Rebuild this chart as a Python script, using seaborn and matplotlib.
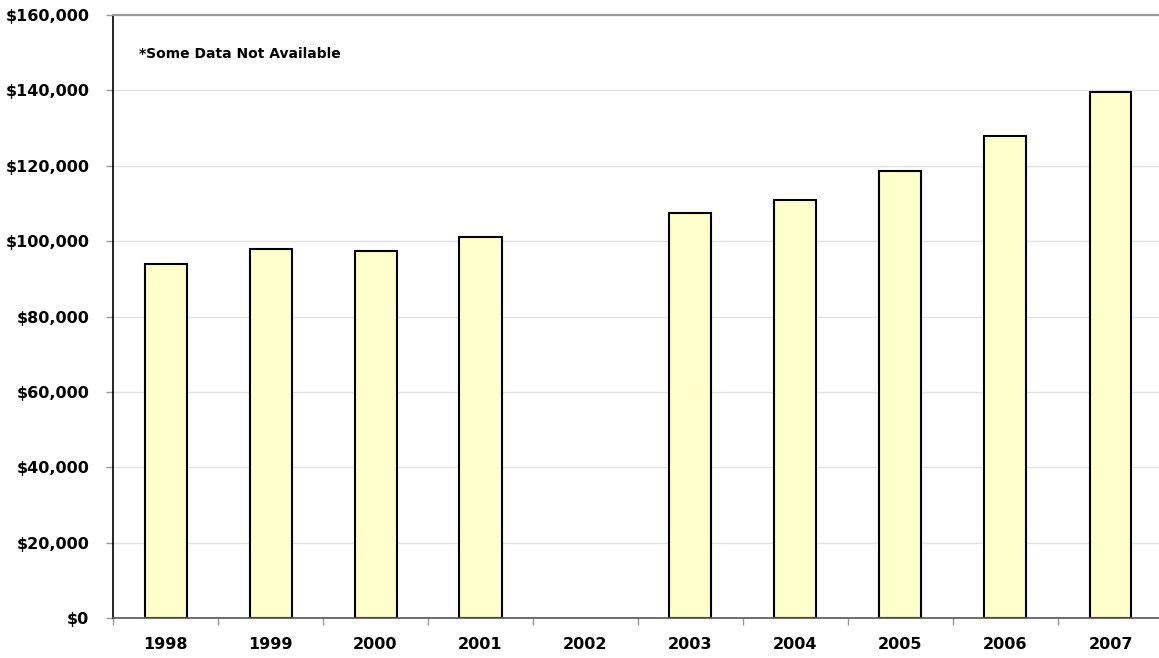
import numpy as np
import pandas as pd
import matplotlib.pyplot as plt
import seaborn as sns
from matplotlib.ticker import FuncFormatter, FixedLocator

# data (2002 not available)
years = ['1998', '1999', '2000', '2001', '2002', '2003', '2004', '2005', '2006', '2007']
salary = [93800, 98000, 97500, 101000, np.nan, 107400, 110800, 118600, 128000, 139600]

df = pd.DataFrame({'Year': years, 'Salary': salary})

sns.set_style('white')
plt.rcParams['font.family'] = ['DejaVu Sans']
plt.rcParams['text.color'] = 'black'
plt.rcParams['xtick.color'] = 'black'
plt.rcParams['ytick.color'] = 'black'

fig = plt.figure(figsize=(11.59, 6.58), dpi=100)
ax = fig.add_axes([113 / 1159, 1 - 618 / 658, 1050 / 1159, 603 / 658])

sns.barplot(data=df, x='Year', y='Salary', order=years, color='#FFFFCC',
            edgecolor='black', linewidth=1.5, width=0.4, saturation=1, ax=ax)

ax.set_ylim(0, 160000)
ax.set_xlim(-0.5, 9.5)
ax.set_yticks(np.arange(0, 160001, 20000))
ax.yaxis.set_major_formatter(FuncFormatter(lambda v, p: '${:,.0f}'.format(v)))
ax.set_xlabel('')
ax.set_ylabel('')

ax.grid(axis='y', color='#e3e3e3', linewidth=1)
ax.set_axisbelow(True)

# category boundary ticks on x
ax.xaxis.set_minor_locator(FixedLocator(np.arange(-0.5, 10, 1)))
ax.tick_params(axis='x', which='major', length=0, pad=14, labelsize=11.5,
               labelcolor='black')
ax.tick_params(axis='x', which='minor', bottom=True, length=5,
               color='#999999', width=1)
ax.tick_params(axis='y', which='major', left=True, length=5, color='#999999',
               width=1, pad=12, labelsize=11.5, labelcolor='black')
for lab in ax.get_xticklabels() + ax.get_yticklabels():
    lab.set_fontweight('bold')

ax.spines['left'].set_color('black')
ax.spines['left'].set_linewidth(1.2)
ax.spines['bottom'].set_color('#555555')
ax.spines['bottom'].set_linewidth(1.2)
ax.spines['top'].set_color('#999999')
ax.spines['top'].set_linewidth(1.5)
ax.spines['right'].set_visible(False)

ax.text(0.025, 0.935, '*Some Data Not Available', transform=ax.transAxes,
        fontsize=10, fontweight='bold', va='center', ha='left', color='black')

fig.savefig('out.png', dpi=100)
